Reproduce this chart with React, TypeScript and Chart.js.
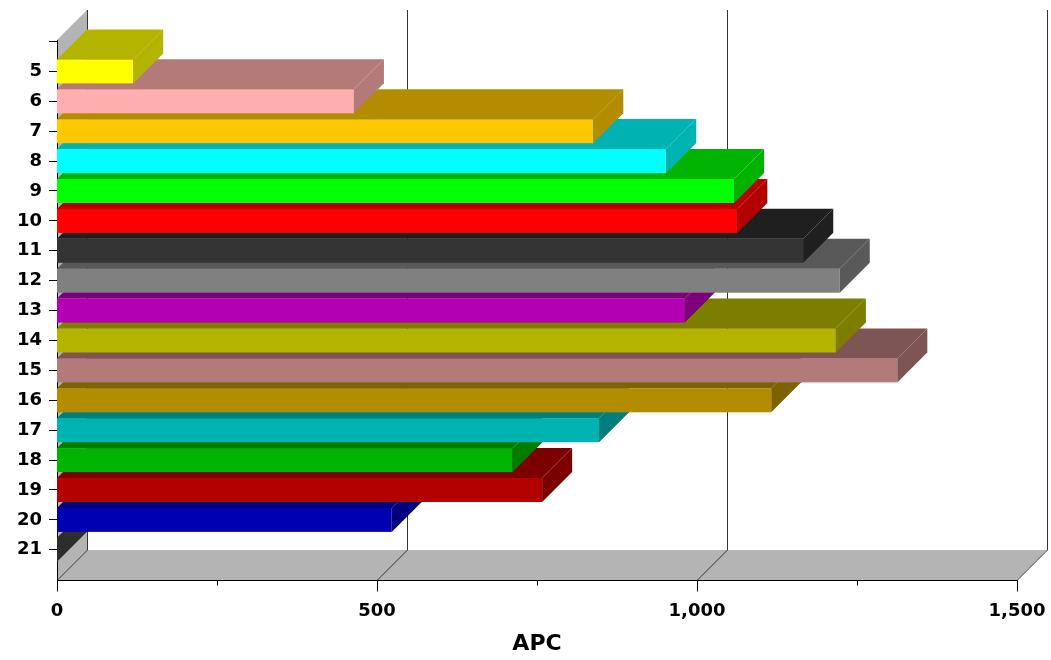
import React, { useEffect, useRef } from 'react';
import { Chart, registerables } from 'chart.js';

Chart.register(...registerables);

const categories: string[] = ['', '5', '6', '7', '8', '9', '10', '11', '12', '13', '14', '15', '16', '17', '18', '19', '20', '21'];
const apcValues: (number | null)[] = [null, 119, 464, 838, 952, 1058, 1063, 1166, 1223, 981, 1217, 1313, 1116, 847, 712, 758, 523, 0];
const frontColors: string[] = ['#000000', '#FFFF00', '#FFAFAF', '#FFC800', '#00FFFF', '#00FF00', '#FF0000', '#333333', '#808080', '#B300B3', '#B3B300', '#B37A7A', '#B38C00', '#00B3B3', '#00B300', '#B30000', '#0000B3', '#404040'];
const sideColors: string[] = ['#000000', '#B3B300', '#B37A7A', '#B38C00', '#00B3B3', '#00B300', '#B30000', '#1F1F1F', '#595959', '#7D007D', '#7D7D00', '#7D5555', '#7D6200', '#007D7D', '#007D00', '#7D0000', '#00007D', '#2D2D2D'];
const xMajorTicks: number[] = [0, 500, 1000, 1500];
const xMinorTicks: number[] = [250, 750, 1250];
const axisTitle = 'APC';

const DEPTH = 30;
const WALL = '#B4B4B4';
const GRID = '#333333';

const threeD = {
  id: 'threeD',
  beforeDraw(chart: any) {
    const { ctx, chartArea } = chart;
    const { left: L, right: R, top: T, bottom: B } = chartArea;
    const d = DEPTH;
    ctx.save();
    ctx.fillStyle = WALL;
    ctx.beginPath();
    ctx.moveTo(L, T); ctx.lineTo(L + d, T - d); ctx.lineTo(L + d, B - d); ctx.lineTo(L, B);
    ctx.closePath(); ctx.fill();
    ctx.beginPath();
    ctx.moveTo(L, B); ctx.lineTo(L + d, B - d); ctx.lineTo(R + d, B - d); ctx.lineTo(R, B);
    ctx.closePath(); ctx.fill();
    ctx.strokeStyle = GRID;
    ctx.lineWidth = 1;
    const xs = chart.scales.x;
    for (const v of xMajorTicks) {
      const px = Math.round(xs.getPixelForValue(v)) + 0.5;
      ctx.beginPath();
      ctx.moveTo(px + d, T - d);
      ctx.lineTo(px + d, B - d);
      ctx.lineTo(px, B);
      ctx.stroke();
    }
    ctx.restore();
  },
  beforeDatasetsDraw(chart: any) {
    const { ctx } = chart;
    const d = DEPTH;
    const meta = chart.getDatasetMeta(0);
    ctx.save();
    for (let i = meta.data.length - 1; i >= 0; i--) {
      if (apcValues[i] == null) continue;
      const el = meta.data[i];
      const { x, y, base, height } = el.getProps(['x', 'y', 'base', 'height'], true);
      const top = y - height / 2;
      const bot = y + height / 2;
      ctx.fillStyle = frontColors[i];
      ctx.fillRect(base, top, x - base, height);
      ctx.fillStyle = sideColors[i];
      ctx.beginPath();
      ctx.moveTo(base, top); ctx.lineTo(base + d, top - d); ctx.lineTo(x + d, top - d); ctx.lineTo(x, top);
      ctx.closePath(); ctx.fill();
      ctx.beginPath();
      ctx.moveTo(x, top); ctx.lineTo(x + d, top - d); ctx.lineTo(x + d, bot - d); ctx.lineTo(x, bot);
      ctx.closePath(); ctx.fill();
    }
    ctx.restore();
    return false;
  },
  afterDraw(chart: any) {
    const { ctx, chartArea } = chart;
    const xs = chart.scales.x;
    const B = Math.round(chartArea.bottom) + 0.5;
    ctx.save();
    ctx.strokeStyle = '#000';
    ctx.lineWidth = 1;
    for (const v of xMajorTicks) {
      const px = Math.round(xs.getPixelForValue(v)) + 0.5;
      ctx.beginPath(); ctx.moveTo(px, B); ctx.lineTo(px, B + 11); ctx.stroke();
    }
    for (const v of xMinorTicks) {
      const px = Math.round(xs.getPixelForValue(v)) + 0.5;
      ctx.beginPath(); ctx.moveTo(px, B); ctx.lineTo(px, B + 5); ctx.stroke();
    }
    ctx.restore();
  },
};

export default function App() {
  const ref = useRef<HTMLCanvasElement>(null);
  useEffect(() => {
    if (!ref.current) return;
    const tickFont = { family: 'DejaVu Sans', weight: 'bold' as const, size: 18 };
    const chart = new Chart(ref.current, {
      type: 'bar',
      data: {
        datasets: [
          {
            label: axisTitle,
            data: apcValues.map((v, i) => ({ x: v, y: i })) as any,
            backgroundColor: frontColors,
            barThickness: 24,
          },
        ],
      },
      options: {
        indexAxis: 'y',
        animation: false,
        responsive: false,
        maintainAspectRatio: false,
        devicePixelRatio: 1,
        layout: { padding: { top: 40, right: 34, left: 0, bottom: 0 } },
        plugins: { legend: { display: false }, tooltip: { enabled: false } },
        scales: {
          y: {
            type: 'linear',
            reverse: true,
            offset: false,
            min: -0.05,
            max: 18.01,
            afterBuildTicks: (s: any) => { s.ticks = categories.map((_, i) => ({ value: i })); },
            afterFit: (s: any) => { s.width = 57; s.paddingTop = 0; s.paddingBottom = 0; },
            ticks: {
              autoSkip: false,
              callback: (v: any) => categories[Number(v)] ?? '',
              font: tickFont,
              color: '#000',
              padding: 7,
            },
            grid: { offset: false, drawOnChartArea: false, drawTicks: true, tickLength: 8, color: '#000' },
            border: { display: true, color: '#000' },
          },
          x: {
            type: 'linear',
            min: 0,
            max: 1500,
            afterBuildTicks: (s: any) => { s.ticks = xMajorTicks.map((v) => ({ value: v })); },
            afterFit: (s: any) => { s.height = 80; s.paddingLeft = 0; s.paddingRight = 0; },
            ticks: {
              autoSkip: false,
              maxRotation: 0,
              callback: (v: any) => Number(v).toLocaleString('en-US'),
              font: tickFont,
              color: '#000',
              padding: 21,
            },
            grid: { display: false, drawTicks: false },
            border: { display: true, color: '#000' },
            title: {
              display: true,
              text: axisTitle,
              color: '#000',
              font: { family: 'DejaVu Sans', weight: 'bold', size: 22 },
              padding: { top: 0, bottom: 3 },
            },
          },
        },
      },
      plugins: [threeD],
    } as any);
    return () => chart.destroy();
  }, []);
  return (
    <div style={{ position: 'absolute', left: 0, top: 0, width: 1051, height: 660, background: '#fff' }}>
      <canvas ref={ref} width={1051} height={660} />
    </div>
  );
}
